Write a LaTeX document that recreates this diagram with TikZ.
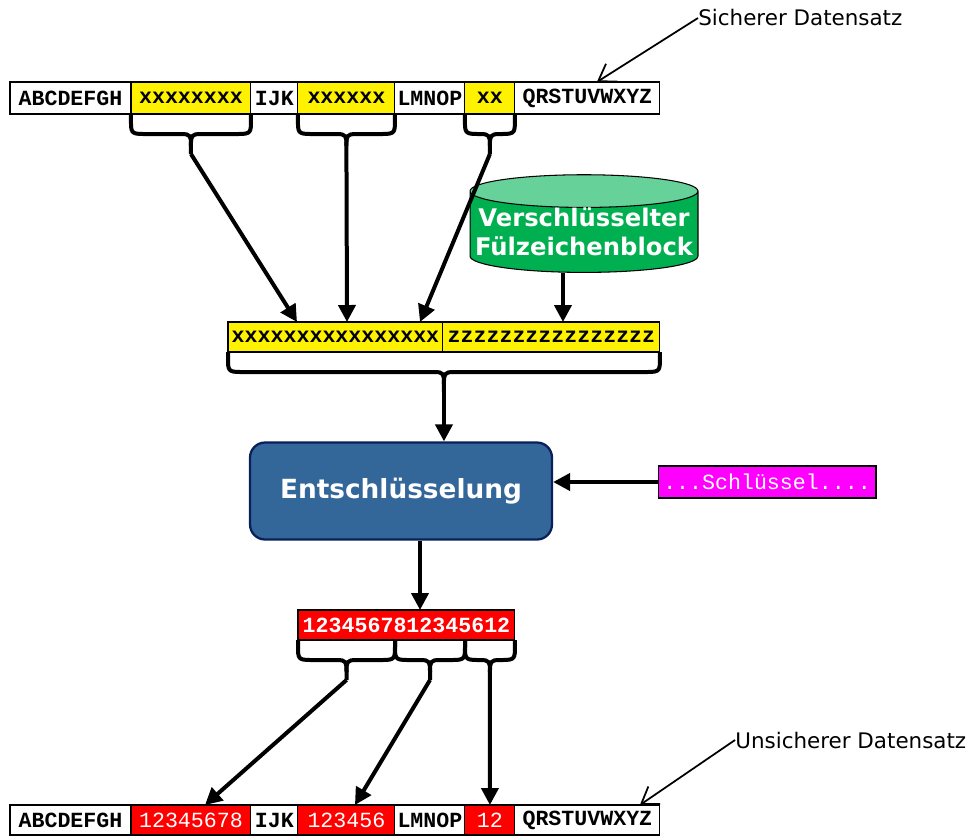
\documentclass[tikz,border=0pt]{standalone}
\usepackage{fontspec}
\setmainfont{DejaVu Sans}
\newfontfamily\courfont{Liberation Mono}
\usetikzlibrary{positioning,calc,arrows.meta,shapes.geometric}

\definecolor{padgreen}{RGB}{0,176,80}
\definecolor{padtop}{RGB}{102,210,153}
\definecolor{decblue}{RGB}{51,102,153}
\definecolor{decborder}{RGB}{10,32,90}
\definecolor{keypink}{RGB}{255,0,255}

\tikzset{
  cell/.style={draw, line width=0.6pt, outer sep=0pt, inner sep=1pt, minimum height=0.64cm,
    font=\fontsize{12.3}{14}\selectfont\courfont\bfseries},
  wcell/.style={cell, fill=white},
  ycell/.style={cell, fill=yellow},
  rcell/.style={cell, fill=red, text=white, font=\fontsize{12.3}{14}\selectfont\courfont},
  arr/.style={line width=0.08cm, -{Triangle[length=0.34cm,width=0.34cm]}},
  curl/.style={line width=0.08cm},
  lbl/.style={anchor=west, inner sep=0pt, font=\fontsize{12.2}{14}\selectfont},
  thinarr/.style={line width=1pt, -{Straight Barb[length=9pt,width=12pt]}}
}

\newcommand{\curly}[3]{%
  \draw[curl] (#1) -- ++(0,6) .. controls +(0,12) and +(-12,0) .. ++(12,14)
    -- ($(#1)!0.5!(#2)+(-10,20)$) .. controls +(10,0) and +(0,-10) .. ($(#1)!0.5!(#2)+(0,32)$)
    -- ++(0,8) coordinate (#3);
  \draw[curl] (#2) -- ++(0,6) .. controls +(0,12) and +(12,0) .. ++(-12,14)
    -- ($(#1)!0.5!(#2)+(10,20)$) .. controls +(-10,0) and +(0,-10) .. ($(#1)!0.5!(#2)+(0,32)$);
}

\begin{document}
\begin{tikzpicture}[x=0.02cm, y=-0.02cm]
  \useasboundingbox (0,0) rectangle (969,836);

  \node[wcell, minimum width=2.42cm, anchor=north west] (a1) at (10,82) {ABCDEFGH};
  \node[ycell, minimum width=2.40cm, right=0pt of a1] (a2) {xxxxxxxx};
  \node[wcell, minimum width=0.94cm, right=0pt of a2] (a3) {IJK};
  \node[ycell, minimum width=1.94cm, right=0pt of a3] (a4) {xxxxxx};
  \node[wcell, minimum width=1.40cm, right=0pt of a4] (a5) {LMNOP};
  \node[ycell, minimum width=1.00cm, right=0pt of a5] (a6) {xx};
  \node[wcell, minimum width=2.90cm, right=0pt of a6] (a7) {QRSTUVWXYZ};

  \node[lbl] (sich) at (698,18) {Sicherer Datensatz};
  \coordinate (sichp) at ($(a7.north west)+(82,0)$);
  \draw[thinarr] (sich.west) -- (sichp);

  \curly{a2.south west}{a2.south east}{t1}
  \curly{a4.south west}{a4.south east}{t2}
  \curly{a6.south west}{a6.south east}{t3}

  \node[cylinder, shape border rotate=90, draw, line width=0.6pt, cylinder uses custom fill,
    cylinder body fill=padgreen, cylinder end fill=padtop, aspect=0.15,
    minimum width=4.56cm, minimum height=1.84cm, inner sep=0pt, align=center, text=white,
    font=\fontsize{13.8}{16.5}\selectfont\bfseries] (pad) at (584,232) {Verschlüsselter\\Fülzeichenblock};

  \node[ycell, minimum width=4.30cm, minimum height=0.60cm, anchor=north west] (mx) at (228,322) {xxxxxxxxxxxxxxxx};
  \node[ycell, minimum width=4.34cm, minimum height=0.60cm, right=0pt of mx] (mz) {zzzzzzzzzzzzzzzz};

  \coordinate (e1) at ($(mx.north west)+(69,0)$);
  \coordinate (e2) at ($(mx.north west)+(119,0)$);
  \coordinate (e3) at ($(mx.north west)+(192,0)$);
  \coordinate (e4) at ($(mz.north west)+(120,0)$);
  \draw[arr] (t1) -- (e1);
  \draw[arr] (t2) -- (e2);
  \draw[arr] (t3) -- (e3);
  \draw[arr] (pad.south -| e4) -- (e4);

  \curly{mx.south west}{mz.south east}{tm}

  \node[draw=decborder, line width=1.3pt, fill=decblue, rounded corners=0.3cm,
    minimum width=6.04cm, minimum height=1.94cm, text=white,
    font=\fontsize{15}{18}\selectfont\bfseries] (ent) at (401,491) {Entschlüsselung};
  \node[draw, line width=0.6pt, fill=keypink, text=white, inner sep=0pt,
    minimum width=4.36cm, minimum height=0.64cm,
    font=\fontsize{12.3}{14}\selectfont\courfont] (key) at (767,482) {...Schlüssel....};

  \draw[arr] (tm) -- (ent.north -| tm);
  \draw[arr] (key.west) -- (key.west -| ent.east);

  \node[cell, fill=red, text=white, minimum width=4.34cm, minimum height=0.60cm, anchor=north west] (red) at (298,610) {1234567812345612};
  \coordinate (r0) at ($(red.north west)+(122,0)$);
  \draw[arr] (ent.south -| r0) -- (r0);

  \coordinate (rA) at ($(red.south west)+(97,0)$);
  \coordinate (rB) at ($(red.south west)+(167,0)$);
  \curly{red.south west}{rA}{t4}
  \curly{rA}{rB}{t5}
  \curly{rB}{red.south east}{t6}

  \node[wcell, minimum width=2.42cm, minimum height=0.60cm, anchor=north west] (c1) at (10,805) {ABCDEFGH};
  \node[rcell, minimum width=2.40cm, minimum height=0.60cm, right=0pt of c1] (c2) {12345678};
  \node[wcell, minimum width=0.94cm, minimum height=0.60cm, right=0pt of c2] (c3) {IJK};
  \node[rcell, minimum width=1.94cm, minimum height=0.60cm, right=0pt of c3] (c4) {123456};
  \node[wcell, minimum width=1.40cm, minimum height=0.60cm, right=0pt of c4] (c5) {LMNOP};
  \node[rcell, minimum width=1.00cm, minimum height=0.60cm, right=0pt of c5] (c6) {12};
  \node[wcell, minimum width=2.90cm, minimum height=0.60cm, right=0pt of c6] (c7) {QRSTUVWXYZ};

  \coordinate (f1) at ($(c2.north west)+(74,0)$);
  \coordinate (f2) at ($(c4.north west)+(57,0)$);
  \draw[arr] (t4) -- (f1);
  \draw[arr] (t5) -- (f2);
  \draw[arr] (t6) -- (c6.north);

  \node[lbl] (unsich) at (735,740) {Unsicherer Datensatz};
  \coordinate (unsichp) at ($(c7.north west)+(125,0)$);
  \draw[thinarr] (unsich.west) -- (unsichp);
\end{tikzpicture}
\end{document}
